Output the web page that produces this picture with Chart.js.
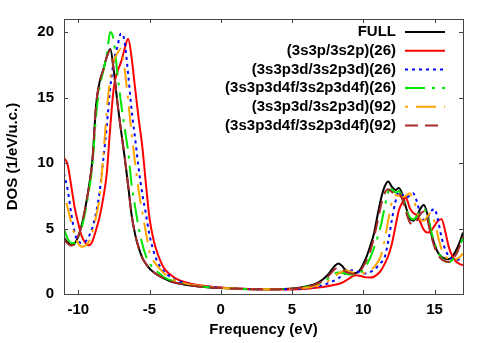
<!DOCTYPE html>
<html lang="en">

<head>
	<title>DOS</title>
	<meta charset="utf-8">
	<style>
		body { margin: 0; background: #fff; }
	</style>
</head>

<body>

	<!-- chart -->
	<canvas id="dosChart" width="491" height="343"></canvas>

	<script src="https://cdn.jsdelivr.net/npm/chart.js"></script>
	<script>
		// energy grid (eV)
		var freq = [-11, -10.75, -10.5, -10.25, -10, -9.75, -9.5, -9.25, -9, -8.75, -8.5, -8.25, -8, -7.75,
			-7.5, -7.25, -7, -6.75, -6.5, -6.25, -6, -5.75, -5.5, -5.25, -5, -4.75, -4.5, -4,
			-3.5, -3, -2, -1, 0, 1, 2, 3, 4, 5, 6, 6.5, 7,
			7.5, 7.75, 8, 8.25, 8.5, 8.75, 9, 9.25, 9.5, 9.75, 10, 10.25, 10.5, 10.75, 11, 11.25, 11.5, 11.75,
			12, 12.25, 12.5, 12.75, 13, 13.25, 13.5, 13.75, 14, 14.25, 14.5, 14.75, 15, 15.25, 15.5, 15.75,
			16, 16.25, 16.5, 16.75, 17];

		// DOS values per basis set
		var dosFull = [4.3, 3.95, 3.73, 3.85, 4.4, 5.3, 6.6, 8.2, 10.3, 14.4, 16.2, 17.1, 18.1, 18.7,
			17.0, 14.6, 12.5, 10.5, 8.3, 6.0, 4.5, 3.5, 2.75, 2.3, 1.95, 1.7, 1.5, 1.2,
			0.95, 0.82, 0.63, 0.52, 0.45, 0.4, 0.37, 0.36, 0.37, 0.42, 0.58, 0.72, 0.98,
			1.45, 1.8, 2.15, 2.33, 2.15, 1.85, 1.68, 1.6, 1.6, 1.8, 2.3, 2.9, 3.7, 4.6, 6.0, 7.3, 8.2, 8.6,
			8.2, 7.95, 8.1, 7.6, 6.6, 5.8, 5.6, 5.9, 6.5, 6.8, 6.1, 4.7, 3.8, 3.15, 2.85, 2.7,
			2.65, 2.85, 3.3, 3.9, 4.7];
		var dos3p26 = [10.4, 9.9, 8.3, 6.6, 5.4, 4.4, 3.9, 3.72, 4.05, 4.9, 5.9, 7.3, 9.2, 12.8,
			15.8, 17.0, 17.7, 18.7, 19.5, 18.0, 15.6, 13.3, 11.2, 8.4, 5.8, 4.3, 3.3, 2.0,
			1.45, 1.1, 0.77, 0.6, 0.5, 0.43, 0.38, 0.35, 0.34, 0.35, 0.4, 0.45, 0.52,
			0.6, 0.65, 0.7, 0.76, 0.86, 1.0, 1.18, 1.35, 1.44, 1.4, 1.32, 1.27, 1.26, 1.32, 1.5, 1.8, 2.3, 2.9,
			3.8, 5.1, 6.4, 7.0, 7.35, 6.6, 6.2, 6.0, 5.5, 4.9, 4.7, 4.8, 5.2, 5.6, 5.7, 4.8,
			3.6, 2.9, 2.5, 2.3, 2.2];
		var dos3d26 = [9.2, 8.0, 6.2, 4.7, 4.0, 3.9, 4.0, 4.4, 5.1, 6.2, 7.8, 10.2, 12.8, 15.8,
			17.8, 18.9, 19.9, 19.3, 16.8, 14.0, 11.8, 9.5, 7.6, 6.1, 4.5, 3.4, 2.6, 1.75,
			1.3, 1.0, 0.72, 0.57, 0.48, 0.42, 0.38, 0.36, 0.36, 0.37, 0.44, 0.52, 0.64,
			0.8, 0.92, 1.05, 1.2, 1.38, 1.58, 1.75, 1.82, 1.75, 1.63, 1.56, 1.58, 1.68, 1.85, 2.1, 2.4, 2.8, 4.0,
			5.6, 7.0, 7.8, 7.6, 7.4, 7.5, 7.7, 7.1, 6.1, 5.65, 5.8, 6.3, 6.5, 5.6, 4.3, 3.4,
			2.9, 2.65, 2.6, 2.65, 2.75];
		var dos4f26 = [4.95, 4.25, 3.9, 3.9, 4.3, 5.1, 6.3, 7.9, 9.9, 13.6, 15.8, 17.0, 18.3, 20.0,
			19.3, 16.8, 14.6, 12.7, 10.9, 8.3, 6.6, 5.0, 3.8, 2.9, 2.35, 2.0, 1.75, 1.3,
			1.05, 0.87, 0.66, 0.53, 0.46, 0.4, 0.37, 0.36, 0.37, 0.4, 0.52, 0.63, 0.82,
			1.15, 1.35, 1.55, 1.65, 1.62, 1.55, 1.5, 1.48, 1.5, 1.6, 1.85, 2.25, 2.8, 3.5, 4.3, 5.3, 6.6, 7.8,
			8.0, 7.75, 7.85, 7.4, 6.5, 5.9, 5.7, 5.9, 6.3, 6.5, 6.0, 4.9, 3.9, 3.2, 2.75, 2.5,
			2.45, 2.6, 3.0, 3.6, 4.3];
		var dos3d92 = [7.8, 6.6, 5.5, 4.5, 3.85, 3.6, 3.7, 4.0, 4.8, 5.9, 7.4, 10.4, 14.0, 16.5,
			17.8, 18.4, 18.7, 17.2, 14.8, 12.2, 9.9, 7.8, 6.2, 4.7, 3.2, 2.6, 2.2, 1.6,
			1.2, 0.95, 0.7, 0.56, 0.47, 0.41, 0.37, 0.36, 0.36, 0.39, 0.48, 0.57, 0.72,
			0.95, 1.15, 1.35, 1.55, 1.7, 1.8, 1.75, 1.65, 1.58, 1.55, 1.58, 1.68, 1.82, 2.05, 2.4, 2.95, 4.1, 5.6,
			7.0, 7.55, 7.5, 7.4, 7.5, 7.7, 7.2, 6.5, 5.7, 5.6, 5.9, 6.2, 5.5, 4.4, 3.4, 2.9,
			2.65, 2.6, 2.65, 2.8, 3.1];
		var dos4f92 = [4.2, 3.85, 3.7, 3.85, 4.4, 5.3, 6.6, 8.2, 10.3, 14.4, 16.2, 17.1, 18.1, 18.6,
			17.0, 14.6, 12.5, 10.5, 8.3, 6.0, 4.5, 3.5, 2.75, 2.3, 1.95, 1.7, 1.5, 1.2,
			0.95, 0.82, 0.63, 0.52, 0.45, 0.4, 0.37, 0.36, 0.37, 0.41, 0.55, 0.68, 0.9,
			1.3, 1.6, 1.9, 2.0, 1.9, 1.7, 1.6, 1.55, 1.55, 1.7, 2.1, 2.6, 3.3, 4.3, 5.5, 6.8, 7.7, 8.0,
			7.8, 7.6, 7.7, 7.2, 6.3, 5.5, 5.3, 5.6, 6.1, 6.3, 5.7, 4.5, 3.6, 3.0, 2.65, 2.5,
			2.45, 2.6, 3.0, 3.6, 4.4];

		var seriesLabels = ['FULL', '(3s3p/3s2p)(26)', '(3s3p3d/3s2p3d)(26)', '(3s3p3d4f/3s2p3d4f)(26)',
			'(3s3p3d/3s2p3d)(92)', '(3s3p3d4f/3s2p3d4f)(92)'];
		var xTickVals = [-10, -5, 0, 5, 10, 15];
		var yTickVals = [0, 5, 10, 15, 20];

		var seriesData = [dosFull, dos3p26, dos3d26, dos4f26, dos3d92, dos4f92];
		var colors = ['#000000', '#ff0000', '#0000ff', '#00e600', '#ffa500', '#a52a2a'];
		var dashes = [[], [], [3, 4], [20, 7, 3, 7], [3, 8, 20, 8], [13, 7]];

		var FONT = { family: 'Liberation Sans, Arial, sans-serif', size: 15, weight: 'bold' };

		function toPoints(ys) {
			return freq.map(function (x, i) { return { x: x, y: ys[i] }; });
		}

		var datasets = seriesData.map(function (ys, i) {
			return {
				label: seriesLabels[i],
				data: toPoints(ys),
				borderColor: colors[i],
				borderWidth: 2,
				borderDash: dashes[i],
				pointRadius: 0,
				fill: false,
				cubicInterpolationMode: 'monotone',
				order: seriesData.length - i   // later series drawn on top
			};
		});

		// frame with inward ticks (gnuplot style)
		var framePlugin = {
			id: 'frame',
			afterDatasetsDraw: function (chart) {
				var c = chart.ctx, a = chart.chartArea;
				var sx = chart.scales.x, sy = chart.scales.y;
				c.save();
				c.strokeStyle = '#444';
				c.lineWidth = 1;
				c.strokeRect(a.left + 0.5, a.top + 0.5, a.right - a.left, a.bottom - a.top);
				c.beginPath();
				xTickVals.forEach(function (v) {
					var px = Math.round(sx.getPixelForValue(v)) + 0.5;
					c.moveTo(px, a.bottom); c.lineTo(px, a.bottom - 4);
					c.moveTo(px, a.top); c.lineTo(px, a.top + 4);
				});
				yTickVals.forEach(function (v) {
					var py = Math.round(sy.getPixelForValue(v)) + 0.5;
					c.moveTo(a.left, py); c.lineTo(a.left + 4, py);
					c.moveTo(a.right, py); c.lineTo(a.right - 4, py);
				});
				c.stroke();
				c.restore();
			}
		};

		// key in top right, text right aligned, sample on the right
		var keyPlugin = {
			id: 'key',
			afterDraw: function (chart) {
				var c = chart.ctx;
				c.save();
				c.font = 'bold 15px "Liberation Sans", Arial, sans-serif';
				c.textAlign = 'right';
				c.textBaseline = 'middle';
				chart.data.datasets.forEach(function (ds, i) {
					var y = 32 + i * 18.7;
					c.fillStyle = '#000';
					c.fillText(ds.label, 396, y);
					c.beginPath();
					c.strokeStyle = ds.borderColor;
					c.lineWidth = 2;
					c.setLineDash(ds.borderDash);
					c.moveTo(405, y);
					c.lineTo(445, y);
					c.stroke();
				});
				c.restore();
			}
		};

		var ctx = document.getElementById('dosChart').getContext('2d');
		var chart = new Chart(ctx, {
			type: 'line',
			data: { datasets: datasets },
			options: {
				responsive: false,
				animation: false,
				layout: { padding: { left: 0, right: 28, top: 18, bottom: 0 } },
				plugins: { legend: { display: false }, tooltip: { enabled: false } },
				scales: {
					x: {
						type: 'linear',
						min: -11,
						max: 17,
						afterBuildTicks: function (s) { s.ticks = xTickVals.map(function (v) { return { value: v }; }); },
						afterFit: function (s) { s.height = 49; },
						grid: { display: false, drawTicks: false },
						border: { display: false },
						ticks: { font: FONT, color: '#000', padding: 7, maxRotation: 0 },
						title: { display: true, text: 'Frequency (eV)', font: FONT, color: '#000' }
					},
					y: {
						type: 'linear',
						min: 0,
						max: 21,
						afterBuildTicks: function (s) { s.ticks = yTickVals.map(function (v) { return { value: v }; }); },
						afterFit: function (s) { s.width = 64; },
						grid: { display: false, drawTicks: false },
						border: { display: false },
						ticks: { font: FONT, color: '#000', padding: 10 },
						title: { display: true, text: 'DOS (1/eV/u.c.)', font: FONT, color: '#000' }
					}
				}
			},
			plugins: [framePlugin, keyPlugin]
		});
	</script>

</body>

</html>
